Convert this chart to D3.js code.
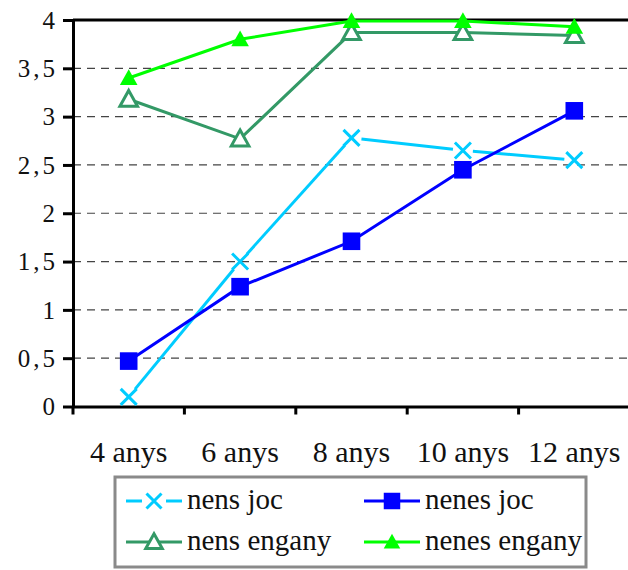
<!DOCTYPE html>
<html><head><meta charset="utf-8">
<script src="https://cdn.jsdelivr.net/npm/d3@7"></script>
<style>
html,body{margin:0;padding:0;background:#fff;}
#chart text{font-family:"Liberation Serif" !important;}
</style></head>
<body>
<svg id="chart" width="628" height="570" font-family="Liberation Serif"></svg>
<script>
// Categories and series
const categories = ["4 anys", "6 anys", "8 anys", "10 anys", "12 anys"];
const yTicks = [0, 0.5, 1, 1.5, 2, 2.5, 3, 3.5, 4];
const nensJoc = [0.10, 1.50, 2.78, 2.65, 2.55];
const nenesJoc = [0.47, 1.24, 1.71, 2.45, 3.06];
const nensEngany = [3.18, 2.77, 3.87, 3.87, 3.84];
const nenesEngany = [3.40, 3.80, 3.99, 3.99, 3.93];

const series = [
  {name: "nens joc", values: nensJoc, color: "#00ccff", marker: "cross"},
  {name: "nenes joc", values: nenesJoc, color: "#0000ff", marker: "square"},
  {name: "nens engany", values: nensEngany, color: "#339966", marker: "triOpen"},
  {name: "nenes engany", values: nenesEngany, color: "#00ff00", marker: "triFill"}
];

const FONT = '"Liberation Serif"';
const svg = d3.select("#chart");
const plotLeft = 73, plotTop = 20, plotBottom = 406.5, plotRight = 630;

const x = d3.scaleBand().domain(categories).range([plotLeft, plotRight]).paddingInner(0).paddingOuter(0);
const y = d3.scaleLinear().domain([0, 4]).range([plotBottom, plotTop]);
const cx = d => x(d) + x.bandwidth() / 2;

// dashed gridlines
svg.append("g").selectAll("line").data(yTicks.filter(t => t > 0 && t < 4)).join("line")
  .attr("x1", plotLeft).attr("x2", 628)
  .attr("y1", d => y(d)).attr("y2", d => y(d))
  .attr("stroke", "#444").attr("stroke-width", 1.2).attr("stroke-dasharray", "8,6");

// solid line at the top value
svg.append("line").attr("x1", plotLeft).attr("x2", 628).attr("y1", y(4)).attr("y2", y(4))
  .attr("stroke", "#000").attr("stroke-width", 3);

// y axis
const yAxis = d3.axisLeft(y).tickValues(yTicks).tickSize(10).tickSizeOuter(0)
  .tickFormat(d => String(d).replace(".", ","));
const gy = svg.append("g").attr("transform", `translate(${plotLeft},0)`).call(yAxis);
gy.attr("font-family", "Liberation Serif").attr("font-size", null);
gy.select(".domain").attr("stroke", "#000").attr("stroke-width", 3);
gy.selectAll(".tick line").attr("stroke", "#000").attr("stroke-width", 3);
gy.selectAll(".tick text").attr("x", -15).attr("dy", "0.33em")
  .attr("font-family", "Liberation Serif").style("font-family", FONT)
  .attr("font-size", 25).attr("letter-spacing", 3).attr("fill", "#111");

// x axis
const xAxis = d3.axisBottom(x).tickSize(0).tickSizeOuter(0);
const gx = svg.append("g").attr("transform", `translate(0,${plotBottom})`).call(xAxis);
gx.attr("font-family", "Liberation Serif").attr("font-size", null);
gx.select(".domain").attr("stroke", "#000").attr("stroke-width", 3);
gx.selectAll(".tick text").attr("y", 55.5).attr("dy", 0)
  .attr("font-family", "Liberation Serif").style("font-family", FONT)
  .attr("font-size", 30).attr("fill", "#111");
// x tick marks at category boundaries
svg.append("g").selectAll("line").data(categories).join("line")
  .attr("x1", d => x(d)).attr("x2", d => x(d))
  .attr("y1", plotBottom).attr("y2", plotBottom + 8)
  .attr("stroke", "#000").attr("stroke-width", 3);

function drawMarker(g, type, color, px, py, s) {
  if (type === "cross") {
    const r = s * 0.5;
    g.append("path").attr("d", `M${px-r},${py-r}L${px+r},${py+r}M${px-r},${py+r}L${px+r},${py-r}`)
      .attr("stroke", color).attr("stroke-width", 3).attr("fill", "none");
  } else if (type === "square") {
    const r = s * 0.55;
    g.append("rect").attr("x", px - r).attr("y", py - r).attr("width", 2 * r).attr("height", 2 * r)
      .attr("fill", color);
  } else {
    const r = s * 0.55;
    const d = `M${px},${py - r}L${px + r},${py + r * 0.8}L${px - r},${py + r * 0.8}Z`;
    if (type === "triOpen") {
      g.append("path").attr("d", d).attr("fill", "#fff").attr("stroke", color).attr("stroke-width", 3);
    } else {
      g.append("path").attr("d", d).attr("fill", color);
    }
  }
}

const plot = svg.append("g");
series.forEach(s => {
  const pts = s.values.map((v, i) => [cx(categories[i]), y(v)]);
  if (s.marker === "cross") {
    // line segments stop short of the cross markers
    const gap = 10;
    for (let i = 0; i < pts.length - 1; i++) {
      const [x1, y1] = pts[i], [x2, y2] = pts[i + 1];
      const len = Math.hypot(x2 - x1, y2 - y1);
      const ux = (x2 - x1) / len, uy = (y2 - y1) / len;
      plot.append("line").attr("x1", x1 + ux * gap).attr("y1", y1 + uy * gap)
        .attr("x2", x2 - ux * gap).attr("y2", y2 - uy * gap)
        .attr("stroke", s.color).attr("stroke-width", 3);
    }
  } else {
    plot.append("path").datum(pts).attr("d", d3.line())
      .attr("fill", "none").attr("stroke", s.color).attr("stroke-width", 3);
  }
  pts.forEach(p => drawMarker(plot, s.marker, s.color, p[0], p[1], 16));
});

// legend
const lg = svg.append("g");
lg.append("rect").attr("x", 115).attr("y", 477).attr("width", 471).attr("height", 90)
  .attr("fill", "#fff").attr("stroke", "#8a8a8a").attr("stroke-width", 3);
const legendPos = [[126, 501], [364, 501], [126, 542], [364, 542]];
series.forEach((s, i) => {
  const [lx, ly] = legendPos[i];
  const g = lg.append("g");
  if (s.marker === "cross") {
    g.append("line").attr("x1", lx).attr("x2", lx + 16).attr("y1", ly).attr("y2", ly)
      .attr("stroke", s.color).attr("stroke-width", 3);
    g.append("line").attr("x1", lx + 40).attr("x2", lx + 56).attr("y1", ly).attr("y2", ly)
      .attr("stroke", s.color).attr("stroke-width", 3);
  } else {
    g.append("line").attr("x1", lx).attr("x2", lx + 56).attr("y1", ly).attr("y2", ly)
      .attr("stroke", s.color).attr("stroke-width", 3);
  }
  drawMarker(g, s.marker, s.color, lx + 28, ly, 15);
  g.append("text").attr("x", lx + 61).attr("y", ly + 8).text(s.name)
    .attr("font-family", "Liberation Serif").style("font-family", FONT)
    .attr("font-size", 29).attr("fill", "#111");
});
</script>
</body></html>
